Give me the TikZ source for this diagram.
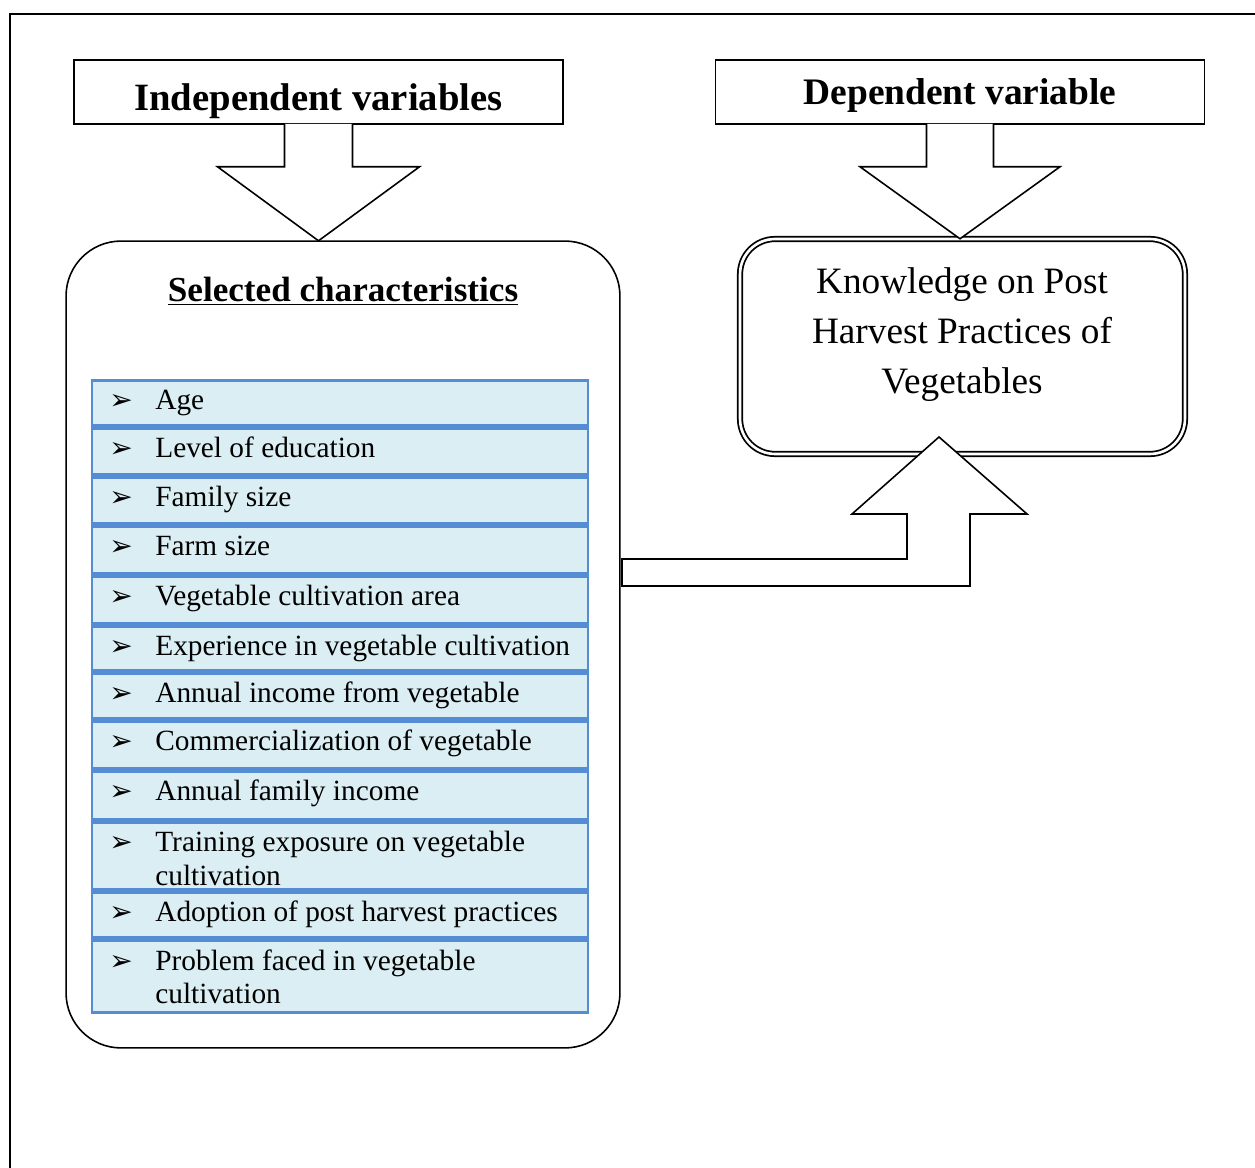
\documentclass[tikz,border=0pt]{standalone}
\usepackage{fontspec}
\setmainfont{Liberation Serif}
\newfontfamily\dejavu{DejaVu Sans}
\usetikzlibrary{positioning, fit}

\definecolor{rowblue}{RGB}{84,141,212}
\definecolor{rowfill}{RGB}{218,238,243}

\newcommand{\itemrow}[1]{\begin{tabular}[t]{@{}p{1.26cm}@{}p{8.6cm}@{}}\hspace*{0.34cm}{\dejavu\fontsize{16}{16}\selectfont ➢} & \raggedright #1\end{tabular}}

\begin{document}
\begin{tikzpicture}[x=0.02cm, y=-0.02cm, >=latex]
\tikzstyle{head} = [rectangle, draw, line width=0.9pt, minimum width=9.78cm, minimum height=1.28cm, text depth=0pt]
\tikzstyle{bigbox} = [rectangle, draw, rounded corners=1.1cm, line width=0.9pt, minimum width=11.08cm, minimum height=16.14cm]
\tikzstyle{row} = [rectangle, draw=rowblue, fill=rowfill, line width=1.3pt, inner sep=0pt]
\tikzstyle{itemtext} = [inner sep=0pt, anchor=base west, font=\fontsize{16.7}{19.3}\selectfont]
\tikzstyle{kbox} = [rectangle, draw, double, double distance=1.5pt, line width=1pt, rounded corners=0.7cm, minimum width=8.9cm, minimum height=4.3cm]
\tikzstyle{blockarrow} = [line width=0.9pt, fill=white]

\useasboundingbox (0,0) rectangle (1255,1168);

% page frame
\draw[line width=1.1pt] (10,1175) -- (10,14) -- (1262,14);

% headings
\node[head, text height=20.5pt, font=\bfseries\fontsize{22}{26}\selectfont] (indep) at (318.5,92) {Independent variables};
\node[head, text height=14.8pt, font=\bfseries\fontsize{21.3}{26}\selectfont] (dep) at (960,92) {Dependent variable};

% selected characteristics
\node[bigbox] (selbox) at (343,644.5) {};
\node[font=\bfseries\fontsize{20}{24}\selectfont, anchor=base] (seltitle) at (343,302) {\underline{Selected characteristics}};

\foreach \ya/\yb/\txt [count=\i] in {379/427/Age, 427/476/Level of education, 476/525/Family size,
  525/575/Farm size, 575/625/Vegetable cultivation area, 625/672/Experience in vegetable cultivation,
  672/720/Annual income from vegetable, 720/770/Commercialization of vegetable,
  770/821/Annual family income, 821/891/Training exposure on vegetable cultivation,
  891/939/Adoption of post harvest practices, 939/1014/Problem faced in vegetable cultivation}
{
  \node[row, fit={(92,\ya+1.5) (588,\yb-1.5)}] (row\i) {};
  \node[itemtext] (rowtext\i) at (92,\ya+31) {\itemrow{\txt}};
}

% dependent variable box
\node[kbox] (know) at (962.5,346.5) {};
\node[font=\fontsize{21.2}{28.5}\selectfont, align=center] (knowtext) at (962,335) {Knowledge on Post\\Harvest Practices of\\Vegetables};

% block arrows
\filldraw[blockarrow] (indep.south) ++(-34,-1) -- ++(0,43) -- ++(-67,0) -- ++(101,74) -- ++(101,-74) -- ++(-67,0) -- ++(0,-43);
\filldraw[blockarrow] (dep.south) ++(-33.5,-1) -- ++(0,43) -- ++(-66.5,0) -- ++(100,72) -- ++(100,-72) -- ++(-66.5,0) -- ++(0,-43);
\filldraw[blockarrow] (622,559) -- (907,559) -- (907,514) -- (852,514) -- (939,437) -- (1027,514) -- (970,514) -- (970,586) -- (622,586) -- cycle;
\end{tikzpicture}
\end{document}
